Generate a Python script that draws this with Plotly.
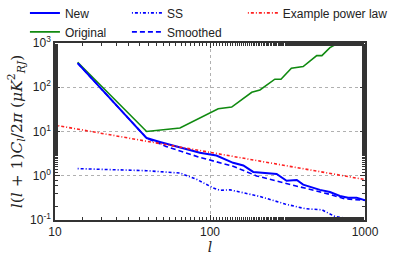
import plotly.graph_objects as go

# ---- data ----
orig_l = [14, 39, 64, 100, 113, 138, 186, 210, 226, 262, 287, 335, 399, 442, 488, 527, 594, 672, 720]
orig_v = [367, 10, 12, 26, 32.6, 35.6, 77, 87, 104, 152, 152, 269, 293, 393, 518, 518, 785, 1000, 1150]

new_l = [14, 39, 47.5, 86, 110, 141, 164, 190, 269, 312, 363, 399, 512, 594, 689, 778, 882, 1000]
new_v = [350, 7.1, 5.8, 3.3, 2.86, 1.96, 1.71, 1.22, 1.1, 0.77, 0.80, 0.63, 0.48, 0.43, 0.35, 0.32, 0.32, 0.28]

smooth_l = [14, 39, 52, 86, 141, 200, 289, 411, 577, 740, 1000]
smooth_v = [350, 7.1, 4.6, 2.6, 1.64, 0.99, 0.71, 0.53, 0.39, 0.30, 0.28]

ss_l = [14, 39, 64, 82, 105, 116, 135, 210, 305, 411, 527, 640, 778, 900]
ss_v = [1.45, 1.3, 1.15, 0.83, 0.53, 0.47, 0.48, 0.34, 0.23, 0.18, 0.17, 0.12, 0.107, 0.085]

pl_l = [10.5, 1000]
pl_v = [13.5, 0.82]

x_ticks = [10, 100, 1000]
x_labels = ["10", "100", "1000"]
y_ticks = [0.1, 1, 10, 100, 1000]
y_labels = ["10<sup>-1</sup>", "10<sup>0</sup>", "10<sup>1</sup>", "10<sup>2</sup>", "10<sup>3</sup>"]

BLUE = "#0000ff"
GREEN = "#108a10"
RED = "#ff2020"

fig = go.Figure()
fig.add_trace(go.Scatter(x=orig_l, y=orig_v, mode="lines", name="Original", legendrank=2,
                         line=dict(color=GREEN, width=1.6), legend="legend"))
fig.add_trace(go.Scatter(x=new_l, y=new_v, mode="lines", name="New", legendrank=1,
                         line=dict(color=BLUE, width=2), legend="legend"))
fig.add_trace(go.Scatter(x=ss_l, y=ss_v, mode="lines", name="SS", legendrank=1,
                         line=dict(color=BLUE, width=1.6, dash="1px,2px,3px,2px"), legend="legend2"))
fig.add_trace(go.Scatter(x=smooth_l, y=smooth_v, mode="lines", name="Smoothed", legendrank=2,
                         line=dict(color=BLUE, width=1.6, dash="5px,3px"), legend="legend2"))
fig.add_trace(go.Scatter(x=pl_l, y=pl_v, mode="lines", name="Example power law",
                         line=dict(color=RED, width=1.6, dash="1px,2px,3px,2px"), legend="legend3"))

legfont = dict(family="Liberation Sans, Arial, sans-serif", size=12, color="#222")
common_leg = dict(font=legfont, bgcolor="rgba(0,0,0,0)", yanchor="top", xanchor="left",
                  tracegroupgap=0, traceorder="normal", itemwidth=30)

axis_common = dict(
    type="log", showline=True, linecolor="#333", linewidth=1.5, mirror="ticks",
    ticks="inside", ticklen=5, tickcolor="#333", tickwidth=1,
    showgrid=True, gridcolor="#b0b0b0", griddash="dot", gridwidth=1,
    zeroline=False,
    tickfont=dict(family="Liberation Sans, Arial, sans-serif", size=12, color="#222"),
    minor=dict(ticks="inside", ticklen=3, tickcolor="#333", showgrid=False),
)

LEG_Y = 1.252
fig.update_layout(
    width=399, height=260,
    margin=dict(l=55, r=34, t=43, b=40, autoexpand=False),
    plot_bgcolor="white", paper_bgcolor="white",
    showlegend=True,
    legend=dict(x=-0.097, y=LEG_Y, **common_leg),
    legend2=dict(x=0.232, y=LEG_Y, **common_leg),
    legend3=dict(x=0.606, y=LEG_Y, **common_leg),
    xaxis=dict(range=[1, 3], tickvals=x_ticks, ticktext=x_labels,
               title=dict(text="<i>l</i>", standoff=2,
                          font=dict(family="DejaVu Serif, serif", size=14, color="#222")),
               **axis_common),
    yaxis=dict(range=[-1, 3], tickvals=y_ticks, ticktext=y_labels,
               title=dict(text="<i>l</i>(<i>l</i> + 1)<i>C<sub>l</sub></i>/2<i>π</i> (<i>μK</i><sup>2</sup><sub><i>RJ</i></sub>)",
                          standoff=4,
                          font=dict(family="DejaVu Serif, serif", size=15.5, color="#222")),
               **axis_common),
)

fig.write_html("out.html", config={"displayModeBar": False},
               post_script="document.body.style.margin='0';document.body.style.padding='0';")
